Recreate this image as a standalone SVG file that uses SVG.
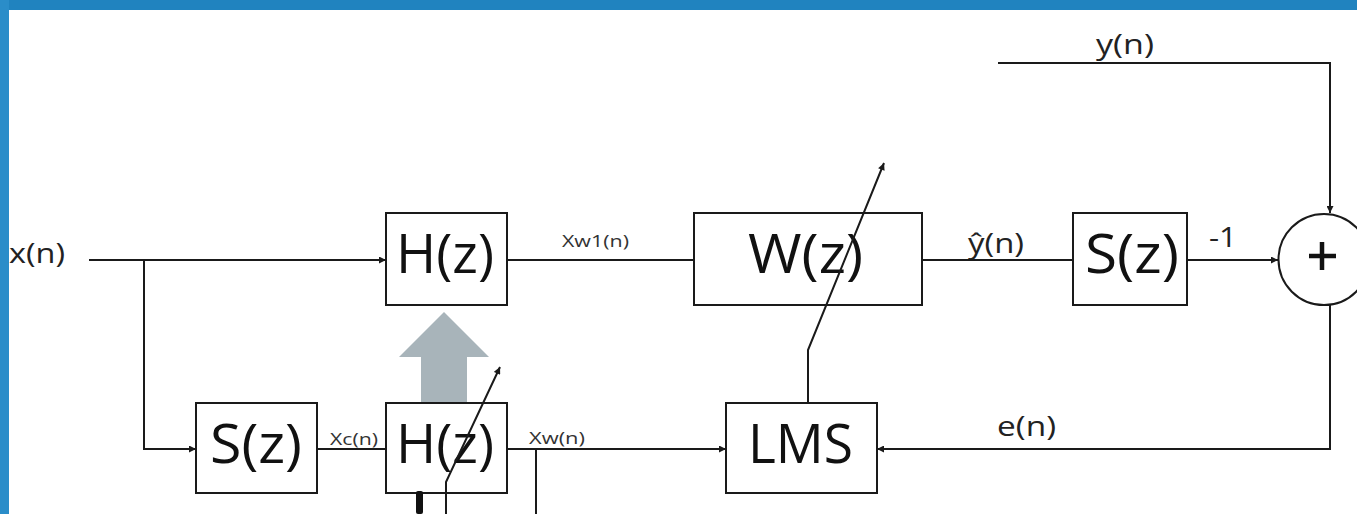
<svg xmlns="http://www.w3.org/2000/svg" width="1357" height="514" viewBox="0 0 1357 514">
  <defs>
    <marker id="arr" viewBox="0 0 10 10" refX="10" refY="5" markerWidth="9" markerHeight="7" markerUnits="userSpaceOnUse" orient="auto">
      <path d="M0,0 L10,5 L0,10 z" fill="#1a1a1a"/>
    </marker>
    <style>
      .box { fill: #ffffff; stroke: #1a1a1a; stroke-width: 2; }
      .wire { fill: none; stroke: #1a1a1a; stroke-width: 2; }
      .big { font-family: "Open Sans", "Liberation Sans", sans-serif; font-size: 54px; fill: #111111; }
      .lbl { font-family: "Open Sans", "Liberation Sans", sans-serif; font-size: 28px; fill: #222222; }
      .sm { font-family: "Open Sans", "Liberation Sans", sans-serif; font-size: 16px; fill: #333333; }
    </style>
  </defs>
  <rect x="0" y="0" width="1357" height="514" fill="#ffffff"/>
  <rect x="0" y="0" width="1357" height="10" fill="#2083bf"/>
  <rect x="0" y="0" width="9" height="514" fill="#2a8dc9"/>

  <g id="labels">
    <text class="lbl" x="9" y="263" textLength="56" lengthAdjust="spacingAndGlyphs">x(n)</text>
    <text class="lbl" x="1096" y="54" textLength="58" lengthAdjust="spacingAndGlyphs">y(n)</text>
    <text class="lbl" x="968" y="253" textLength="56" lengthAdjust="spacingAndGlyphs">ŷ(n)</text>
    <text class="lbl" x="1209" y="247" font-size="24" textLength="28" lengthAdjust="spacingAndGlyphs">-1</text>
    <text class="lbl" x="997" y="436" textLength="59" lengthAdjust="spacingAndGlyphs">e(n)</text>
    <text class="sm" x="562" y="247" textLength="67" lengthAdjust="spacingAndGlyphs">Xw1(n)</text>
    <text class="sm" x="330" y="445" textLength="48" lengthAdjust="spacingAndGlyphs">Xc(n)</text>
    <text class="sm" x="529" y="444" textLength="56" lengthAdjust="spacingAndGlyphs">Xw(n)</text>
  </g>

  <g id="H_upper">
    <rect class="box" x="386" y="213" width="121" height="92"/>
    <text class="big" x="396" y="273" textLength="98" lengthAdjust="spacingAndGlyphs">H(z)</text>
  </g>

  <g id="W">
    <rect class="box" x="694" y="213" width="228" height="92"/>
    <text class="big" x="748" y="273" textLength="115" lengthAdjust="spacingAndGlyphs">W(z)</text>
  </g>

  <g id="S_upper">
    <rect class="box" x="1073" y="213" width="114" height="92"/>
    <text class="big" x="1085" y="273" textLength="94" lengthAdjust="spacingAndGlyphs">S(z)</text>
  </g>

  <g id="sum">
    <circle cx="1324" cy="259.5" r="45.5" fill="#ffffff" stroke="#1a1a1a" stroke-width="2"/>
    <path d="M1309,256 H1336 M1322,242 V270" stroke="#111111" stroke-width="4.5" fill="none"/>
  </g>

  <g id="adapt_arrow">
    <polygon points="421,403 421,357 399,357 444,312 489,357 467,357 467,403" fill="#a8b4ba"/>
  </g>

  <g id="S_lower">
    <rect class="box" x="196" y="403" width="121" height="90"/>
    <text class="big" x="210" y="463" textLength="92" lengthAdjust="spacingAndGlyphs">S(z)</text>
  </g>

  <g id="H_lower">
    <rect class="box" x="386" y="403" width="121" height="90"/>
    <text class="big" x="396" y="463" textLength="98" lengthAdjust="spacingAndGlyphs">H(z)</text>
  </g>

  <g id="LMS">
    <rect class="box" x="726" y="403" width="151" height="90"/>
    <text class="big" x="748" y="463" textLength="105" lengthAdjust="spacingAndGlyphs">LMS</text>
  </g>

  <g id="connectors">
    <path class="wire" d="M89,260 H386" marker-end="url(#arr)"/>
    <path class="wire" d="M144,260 V449 H196" marker-end="url(#arr)"/>
    <path class="wire" d="M317,449 H386"/>
    <path class="wire" d="M507,449 H726" marker-end="url(#arr)"/>
    <path class="wire" d="M536,449 V514"/>
    <path class="wire" d="M507,260 H694"/>
    <path class="wire" d="M922,260 H1073"/>
    <path class="wire" d="M1187,260 H1278" marker-end="url(#arr)"/>
    <path class="wire" d="M998,63 H1330 V213" marker-end="url(#arr)"/>
    <path class="wire" d="M1330,305 V449 H877" marker-end="url(#arr)"/>
    <path class="wire" d="M808,403 V350 L884,163" marker-end="url(#arr)"/>
    <path class="wire" d="M446,514 V482 L500,367" marker-end="url(#arr)"/>
    <rect x="416" y="491" width="7" height="23" rx="2" fill="#111111"/>
  </g>
</svg>
